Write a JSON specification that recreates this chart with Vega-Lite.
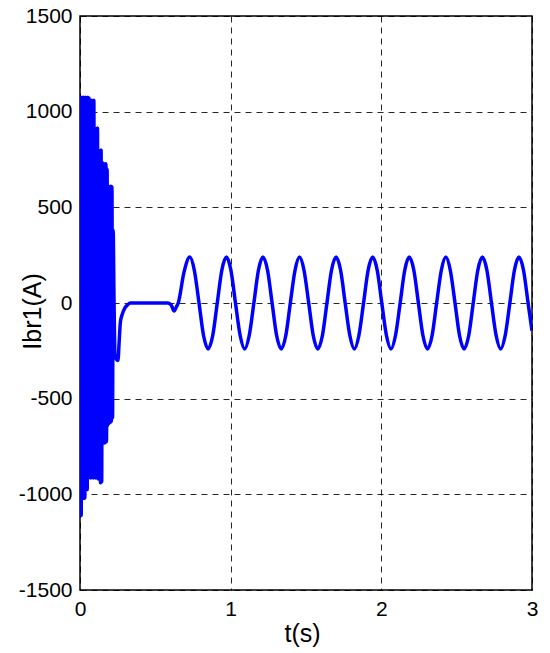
{
  "$schema": "https://vega.github.io/schema/vega-lite/v6.json",
  "autosize": "none",
  "width": 452,
  "height": 574,
  "padding": {"left": 80, "top": 16, "right": 18, "bottom": 63},
  "background": "white",
  "config": {
    "view": {"stroke": "black", "strokeWidth": 1.5},
    "font": "Liberation Sans"
  },
  "data": {
    "values": [
      {"t": 0.000, "i": -1120}, {"t": 0.004, "i": 1075}, {"t": 0.008, "i": -1110}, {"t": 0.012, "i": 1070},
      {"t": 0.016, "i": -1020}, {"t": 0.020, "i": 1075}, {"t": 0.024, "i": -1010}, {"t": 0.028, "i": 1068},
      {"t": 0.032, "i": -1020}, {"t": 0.036, "i": 1075}, {"t": 0.040, "i": -970}, {"t": 0.044, "i": 1070},
      {"t": 0.048, "i": -975}, {"t": 0.052, "i": 1075}, {"t": 0.056, "i": -915}, {"t": 0.060, "i": 1072},
      {"t": 0.064, "i": -910}, {"t": 0.068, "i": 1060}, {"t": 0.072, "i": -915}, {"t": 0.076, "i": 1060},
      {"t": 0.080, "i": -905}, {"t": 0.084, "i": 1058}, {"t": 0.088, "i": -915}, {"t": 0.092, "i": 1060},
      {"t": 0.096, "i": -910}, {"t": 0.100, "i": 915}, {"t": 0.104, "i": -915}, {"t": 0.108, "i": 910},
      {"t": 0.112, "i": -900}, {"t": 0.116, "i": 915}, {"t": 0.120, "i": -920}, {"t": 0.124, "i": 800},
      {"t": 0.128, "i": -915}, {"t": 0.132, "i": 795}, {"t": 0.136, "i": -940}, {"t": 0.140, "i": 800},
      {"t": 0.144, "i": -935}, {"t": 0.148, "i": 730}, {"t": 0.152, "i": -700}, {"t": 0.156, "i": 730},
      {"t": 0.160, "i": -732}, {"t": 0.164, "i": 720}, {"t": 0.168, "i": -730}, {"t": 0.172, "i": 728},
      {"t": 0.176, "i": -725}, {"t": 0.180, "i": 700}, {"t": 0.184, "i": -640}, {"t": 0.188, "i": 610},
      {"t": 0.192, "i": -630}, {"t": 0.196, "i": 605}, {"t": 0.200, "i": -625}, {"t": 0.204, "i": 610},
      {"t": 0.208, "i": -620}, {"t": 0.212, "i": 608}, {"t": 0.216, "i": -600}, {"t": 0.220, "i": 380},
      {"t": 0.226, "i": 0}, {"t": 0.232, "i": -270}, {"t": 0.242, "i": -295}, {"t": 0.252, "i": -300},
      {"t": 0.260, "i": -200}, {"t": 0.268, "i": -100}, {"t": 0.280, "i": -60}, {"t": 0.295, "i": -30},
      {"t": 0.315, "i": -10}, {"t": 0.335, "i": 0}, {"t": 0.580, "i": 0}, {"t": 0.605, "i": -10},
      {"t": 0.625, "i": -42}, {"t": 0.640, "i": -20}, {"t": 0.652, "i": 0}, {"t": 0.690, "i": 160},
      {"t": 0.729, "i": 240}, {"t": 0.759, "i": 170}, {"t": 0.790, "i": 0}, {"t": 0.820, "i": -170},
      {"t": 0.850, "i": -240}, {"t": 0.881, "i": -170}, {"t": 0.911, "i": 0}, {"t": 0.941, "i": 170},
      {"t": 0.972, "i": 240}, {"t": 1.002, "i": 170}, {"t": 1.032, "i": 0}, {"t": 1.063, "i": -170},
      {"t": 1.093, "i": -240}, {"t": 1.123, "i": -170}, {"t": 1.154, "i": 0}, {"t": 1.184, "i": 170},
      {"t": 1.214, "i": 240}, {"t": 1.245, "i": 170}, {"t": 1.275, "i": 0}, {"t": 1.305, "i": -170},
      {"t": 1.336, "i": -240}, {"t": 1.366, "i": -170}, {"t": 1.396, "i": 0}, {"t": 1.427, "i": 170},
      {"t": 1.457, "i": 240}, {"t": 1.487, "i": 170}, {"t": 1.518, "i": 0}, {"t": 1.548, "i": -170},
      {"t": 1.578, "i": -240}, {"t": 1.609, "i": -170}, {"t": 1.639, "i": 0}, {"t": 1.669, "i": 170},
      {"t": 1.700, "i": 240}, {"t": 1.730, "i": 170}, {"t": 1.760, "i": 0}, {"t": 1.791, "i": -170},
      {"t": 1.821, "i": -240}, {"t": 1.851, "i": -170}, {"t": 1.882, "i": 0}, {"t": 1.912, "i": 170},
      {"t": 1.943, "i": 240}, {"t": 1.973, "i": 170}, {"t": 2.003, "i": 0}, {"t": 2.034, "i": -170},
      {"t": 2.064, "i": -240}, {"t": 2.094, "i": -170}, {"t": 2.125, "i": 0}, {"t": 2.155, "i": 170},
      {"t": 2.185, "i": 240}, {"t": 2.216, "i": 170}, {"t": 2.246, "i": 0}, {"t": 2.276, "i": -170},
      {"t": 2.307, "i": -240}, {"t": 2.337, "i": -170}, {"t": 2.367, "i": 0}, {"t": 2.398, "i": 170},
      {"t": 2.428, "i": 240}, {"t": 2.458, "i": 170}, {"t": 2.489, "i": 0}, {"t": 2.519, "i": -170},
      {"t": 2.549, "i": -240}, {"t": 2.580, "i": -170}, {"t": 2.610, "i": 0}, {"t": 2.640, "i": 170},
      {"t": 2.671, "i": 240}, {"t": 2.701, "i": 170}, {"t": 2.731, "i": 0}, {"t": 2.762, "i": -170},
      {"t": 2.792, "i": -240}, {"t": 2.822, "i": -170}, {"t": 2.853, "i": 0}, {"t": 2.883, "i": 170},
      {"t": 2.913, "i": 240}, {"t": 2.944, "i": 170}, {"t": 2.974, "i": 0}, {"t": 3.000, "i": -145}
    ]
  },
  "mark": {"type": "line", "color": "#0000FF", "strokeWidth": 3.5, "interpolate": "monotone", "clip": true},
  "encoding": {
    "x": {
      "field": "t", "type": "quantitative",
      "scale": {"domain": [0, 3], "nice": false, "zero": false},
      "axis": {
        "values": [0, 1, 2, 3], "labelExpr": "datum.value + ''", "title": "t(s)",
        "domain": false, "ticks": false, "labelPadding": 8,
        "labelFont": "Liberation Sans", "labelFontSize": 21, "labelColor": "black", "labelFlush": false,
        "titleFont": "Liberation Sans", "titleFontSize": 25, "titleFontWeight": "normal", "titleColor": "black",
        "titleX": 222, "titleY": 51, "titleBaseline": "alphabetic", "titleAnchor": "middle", "titleAlign": "center",
        "grid": true, "gridColor": "black", "gridDash": [6, 5], "gridWidth": 1, "gridOpacity": 0.85
      }
    },
    "y": {
      "field": "i", "type": "quantitative",
      "scale": {"domain": [-1500, 1500], "nice": false, "zero": false},
      "axis": {
        "values": [-1500, -1000, -500, 0, 500, 1000, 1500], "labelExpr": "datum.value + ''", "title": "Ibr1(A)",
        "domain": false, "ticks": false, "labelPadding": 8,
        "labelFont": "Liberation Sans", "labelFontSize": 21, "labelColor": "black", "labelFlush": false,
        "titleFont": "Liberation Sans", "titleFontSize": 25, "titleFontWeight": "normal", "titleColor": "black",
        "titleX": -48, "titleY": 295, "titleBaseline": "middle", "titleAngle": -90, "titleAlign": "center",
        "grid": true, "gridColor": "black", "gridDash": [6, 5], "gridWidth": 1, "gridOpacity": 0.85
      }
    }
  }
}
